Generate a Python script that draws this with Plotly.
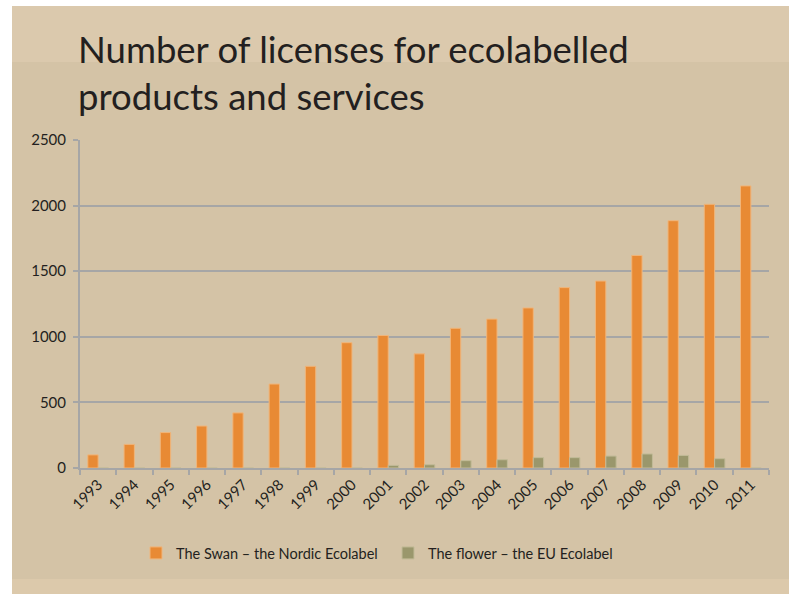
import plotly.graph_objects as go

years = [str(y) for y in range(1993, 2012)]
swan = [100, 180, 270, 320, 420, 640, 775, 955, 1010, 870, 1065, 1135, 1220, 1375, 1425, 1620, 1885, 2010, 2150]
flower = [0, 0, 0, 0, 0, 0, 0, 0, 20, 25, 56, 63, 79, 79, 91, 107, 96, 71, 0]

W, H = 789, 594
L, R, T, B = 80, 769, 140, 468

def px(x):
    return (x - L) / (R - L)

def py(y):
    return (B - y) / (B - T)

FONT = "Lato"
TXT = "#231f20"

fig = go.Figure()
fig.add_trace(go.Bar(x=years, y=swan, name="The Swan – the Nordic Ecolabel",
                     marker=dict(color="#e88a34", line=dict(color="#f0b57a", width=1))))
fig.add_trace(go.Bar(x=years, y=flower, name="The flower – the EU Ecolabel",
                     marker=dict(color="#9a976c", line=dict(color="#c2bb98", width=1))))

shapes = [
    dict(type="rect", xref="paper", yref="paper", x0=px(12), x1=px(789), y0=py(6), y1=py(594),
         fillcolor="#d4c3a6", line=dict(width=0), layer="below"),
    dict(type="rect", xref="paper", yref="paper", x0=px(12), x1=px(789), y0=py(6), y1=py(62),
         fillcolor="#dbc9ad", line=dict(width=0), layer="below"),
    dict(type="rect", xref="paper", yref="paper", x0=px(12), x1=px(789), y0=py(579), y1=py(594),
         fillcolor="#dcc9ab", line=dict(width=0), layer="below"),
]

fig.update_layout(
    width=W, height=H,
    margin=dict(l=L, r=W - R, t=T, b=H - B, pad=0),
    paper_bgcolor="white",
    plot_bgcolor="#e4dbc8",
    shapes=shapes,
    barmode="group",
    bargap=0.43,
    bargroupgap=0,
    font=dict(family=FONT, color=TXT, size=15),
    title=dict(text="Number of licenses for ecolabelled<br>products and services",
               x=78 / W, xanchor="left", xref="container",
               y=1 - 63 / H, yanchor="middle", yref="container",
               font=dict(family=FONT, size=36.5, color=TXT)),
    showlegend=True,
    legend=dict(orientation="h", x=px(136), xanchor="left", y=py(553), yanchor="middle",
                font=dict(size=14.5, color=TXT), bgcolor="rgba(0,0,0,0)",
                itemwidth=30, traceorder="normal", entrywidth=207, entrywidthmode="pixels"),
    xaxis=dict(type="category", showline=True, linecolor="#a6a6a6", linewidth=2,
               ticks="outside", tickson="boundaries", ticklen=5, tickcolor="#a6a6a6", tickwidth=1.5,
               tickangle=-45, tickfont=dict(size=15, color=TXT), showgrid=False),
    yaxis=dict(range=[0, 2500], dtick=500, showline=True, linecolor="#a6a6a6", linewidth=2,
               gridcolor="#a6a6a6", gridwidth=1.5, ticks="outside", ticklen=5,
               tickcolor="#a6a6a6", tickwidth=1.5, tickfont=dict(size=15, color=TXT),
               zeroline=False, ticklabelstandoff=4),
)

fig.write_html("out.html")
